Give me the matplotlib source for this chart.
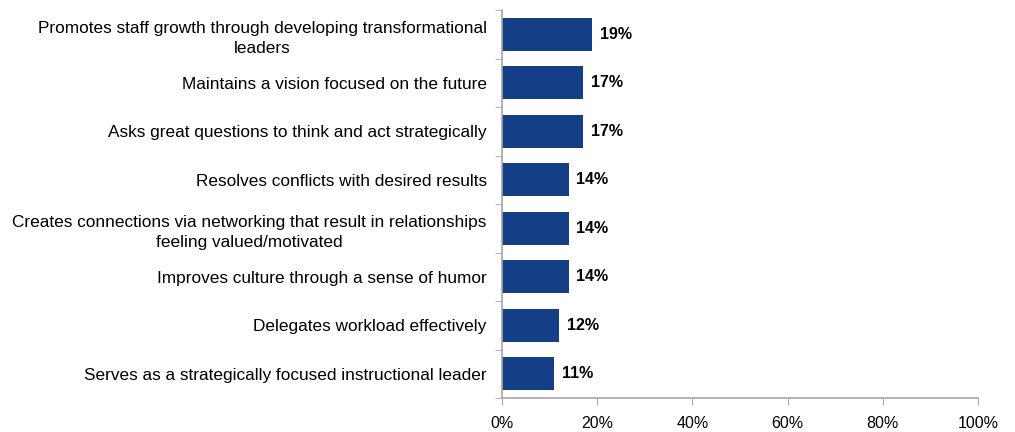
import matplotlib.pyplot as plt
import numpy as np
from matplotlib.ticker import FixedLocator

labels = [
    "Promotes staff growth through developing transformational\nleaders",
    "Maintains a vision focused on the future",
    "Asks great questions to think and act strategically",
    "Resolves conflicts with desired results",
    "Creates connections via networking that result in relationships\nfeeling valued/motivated",
    "Improves culture through a sense of humor",
    "Delegates workload effectively",
    "Serves as a strategically focused instructional leader",
]
values = [19, 17, 17, 14, 14, 14, 12, 11]
xticks = [0, 20, 40, 60, 80, 100]

plt.rcParams['font.family'] = ['Liberation Sans', 'DejaVu Sans']

fig = plt.figure(figsize=(10.15, 4.32), dpi=100)
ax = fig.add_axes([0.4946, 0.0787, 0.469, 0.898])

n = len(values)
y = np.arange(n)[::-1]
ax.barh(y, values, height=0.68, color='#143F86')
for yi, v in zip(y, values):
    ax.text(v + 1.6, yi, f"{v}%", va='center', ha='left', fontsize=11.5, fontweight='bold')

ax.set_xlim(0, 100)
ax.set_ylim(-0.5, n - 0.5)
ax.set_xticks(xticks)
ax.set_xticklabels([f"{t}%" for t in xticks], fontsize=11.5)
ax.set_yticks(y)
ax.set_yticklabels(labels, fontsize=12.4, multialignment='center', linespacing=1.45)
ax.tick_params(axis='y', length=0, pad=11)
ax.yaxis.set_minor_locator(FixedLocator(np.arange(-0.5, n, 1.0)))
ax.tick_params(axis='y', which='minor', length=5, color='#A6A6A6')
ax.tick_params(axis='x', length=5, color='#A6A6A6', pad=8)

for side in ['top', 'right']:
    ax.spines[side].set_visible(False)
for side in ['left', 'bottom']:
    ax.spines[side].set_color('#A6A6A6')
    ax.spines[side].set_linewidth(1.2)

plt.savefig("out.png", facecolor='w', edgecolor='w')
